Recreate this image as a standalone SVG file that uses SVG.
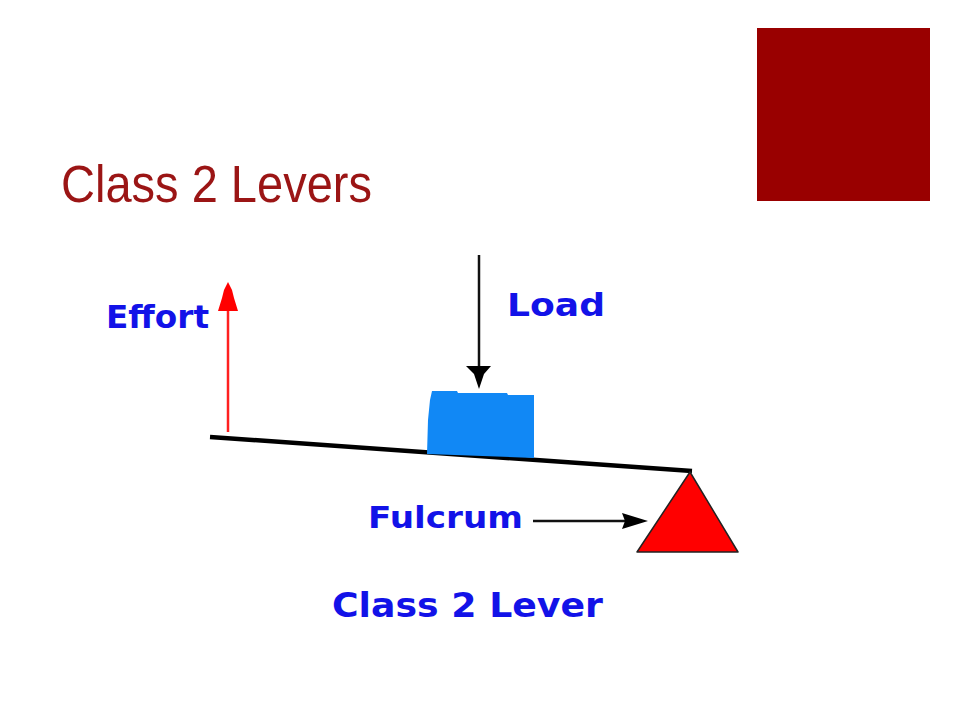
<svg xmlns="http://www.w3.org/2000/svg" width="960" height="720" viewBox="0 0 960 720">
<style>
.lbl{font-family:"DejaVu Sans","Liberation Sans",sans-serif;font-weight:bold;fill:#1212e8;}
.title{font-family:"Liberation Sans","DejaVu Sans",sans-serif;fill:#9b1515;}
</style>
<rect x="0" y="0" width="960" height="720" fill="#ffffff"/>
<g id="title">
<text class="title" x="61" y="202" font-size="51" textLength="311" lengthAdjust="spacingAndGlyphs">Class 2 Levers</text>
</g>
<g id="corner-block">
<rect x="757" y="28" width="173" height="173" fill="#990000"/>
</g>
<g id="lever">
<line x1="210" y1="437" x2="692" y2="471" stroke="#000" stroke-width="4.5"/>
</g>
<g id="load-box">
<polygon points="432,391 457,391 458,393 507,393 508,395 534,395 534,458 427,454 428,420 430,400" fill="#1188f5"/>
</g>
<g id="fulcrum">
<polygon points="690,472 738,552 637,552" fill="#ff0000" stroke="#222" stroke-width="1.5" stroke-linejoin="round"/>
</g>
<g id="connectors">
<line x1="228" y1="432" x2="228" y2="300" stroke="#ff2020" stroke-width="2.5"/>
<polygon points="228,282 232,290 234,298 238,311 218,311 222,298 224,290" fill="#ff0000"/>
<line x1="479" y1="255" x2="479" y2="372" stroke="#111" stroke-width="2.5"/>
<polygon points="466,366 491,366 484,374 479,389 474,374" fill="#000"/>
<line x1="533" y1="521" x2="630" y2="521" stroke="#111" stroke-width="2.5"/>
<polygon points="648,521 622,513 625,521 622,529" fill="#000"/>
</g>
<g id="effort-label">
<text class="lbl" x="106" y="328" font-size="32" textLength="103" lengthAdjust="spacingAndGlyphs">Effort</text>
</g>
<g id="load-label">
<text class="lbl" x="507" y="316" font-size="32" textLength="98" lengthAdjust="spacingAndGlyphs">Load</text>
</g>
<g id="fulcrum-label">
<text class="lbl" x="368" y="528" font-size="31" textLength="155" lengthAdjust="spacingAndGlyphs">Fulcrum</text>
</g>
<g id="caption">
<text class="lbl" x="332" y="617" font-size="33" textLength="271" lengthAdjust="spacingAndGlyphs">Class 2 Lever</text>
</g>
</svg>
